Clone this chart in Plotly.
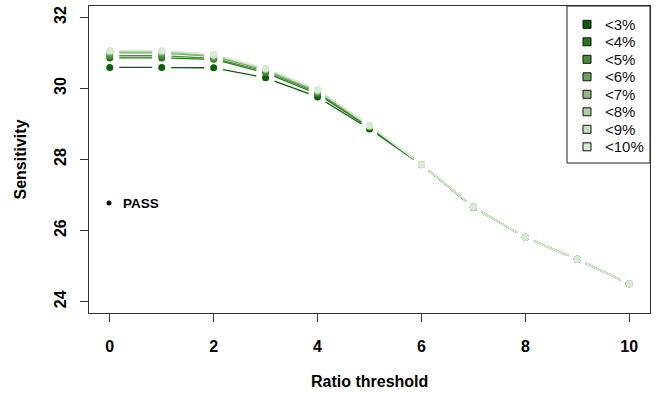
import plotly.graph_objects as go

# ---- data ----
thresholds = [0, 1, 2, 3, 4, 5, 6, 7, 8, 9, 10]
series_names = ["<3%", "<4%", "<5%", "<6%", "<7%", "<8%", "<9%", "<10%"]
s3 = [30.59, 30.59, 30.58, 30.30, 29.76, 28.86, 27.85, 26.65, 25.81, 25.19, 24.50]
s4 = [30.86, 30.86, 30.82, 30.44, 29.84, 28.90, 27.86, 26.66, 25.81, 25.19, 24.50]
s5 = [30.92, 30.92, 30.85, 30.48, 29.88, 28.92, 27.86, 26.66, 25.81, 25.19, 24.50]
s6 = [31.00, 31.00, 30.90, 30.52, 29.91, 28.93, 27.86, 26.66, 25.81, 25.19, 24.50]
s7 = [31.03, 31.03, 30.92, 30.54, 29.93, 28.94, 27.86, 26.66, 25.81, 25.19, 24.50]
s8 = [31.05, 31.05, 30.94, 30.55, 29.95, 28.95, 27.86, 26.66, 25.81, 25.19, 24.50]
s9 = [31.06, 31.06, 30.95, 30.56, 29.96, 28.96, 27.86, 26.66, 25.81, 25.19, 24.50]
s10 = [31.07, 31.07, 30.96, 30.57, 29.97, 28.96, 27.86, 26.66, 25.81, 25.19, 24.50]
series_values = [s3, s4, s5, s6, s7, s8, s9, s10]
x_ticks = [0, 2, 4, 6, 8, 10]
y_ticks = [24, 26, 28, 30, 32]
pass_label = "PASS"

# ---- style ----
colors = ["#0b5e0b", "#23791a", "#4a8c38", "#6ba55d", "#8fba84", "#acd0a3", "#c4dfbe", "#d9ebd5"]
W, H = 656, 395
L, R, T, B = 89, 650, 6, 313
xr = [-0.4, 10.4]
yr = [23.68, 32.32]
sx = (R - L) / (xr[1] - xr[0])
sy = (B - T) / (yr[1] - yr[0])
GAP = 9.5
FONT = "Liberation Sans, Arial, Helvetica, sans-serif"


def px2paper(px, py):
    return (px - L) / (R - L), (B - py) / (B - T)


def gapped(xs, ys):
    gx, gy = [], []
    for i in range(len(xs) - 1):
        x0, y0, x1, y1 = xs[i], ys[i], xs[i + 1], ys[i + 1]
        dxp, dyp = (x1 - x0) * sx, (y1 - y0) * sy
        Lp = (dxp ** 2 + dyp ** 2) ** 0.5
        if Lp <= 2 * GAP:
            continue
        t = GAP / Lp
        gx += [x0 + t * (x1 - x0), x1 - t * (x1 - x0), None]
        gy += [y0 + t * (y1 - y0), y1 - t * (y1 - y0), None]
    return gx, gy


fig = go.Figure()
for name, vals, col in zip(series_names, series_values, colors):
    gx, gy = gapped(thresholds, vals)
    fig.add_trace(go.Scatter(x=gx, y=gy, mode="lines", line=dict(color=col, width=1.3),
                             showlegend=False, hoverinfo="skip"))
    fig.add_trace(go.Scatter(x=thresholds, y=vals, mode="markers", name=name,
                             marker=dict(color=col, size=7), showlegend=False))

shapes = []
annotations = []
# legend box (top-right)
lx0, ly0 = px2paper(567, 163)
lx1, ly1 = px2paper(R, T)
shapes.append(dict(type="rect", xref="paper", yref="paper", x0=lx0, y0=ly0, x1=lx1, y1=ly1,
                   line=dict(color="#222", width=1), fillcolor="white", layer="above"))
for i, (name, col) in enumerate(zip(series_names, colors)):
    cy = 24.3 + i * 17.5
    a0 = px2paper(583, cy + 4)
    a1 = px2paper(591, cy - 4)
    shapes.append(dict(type="rect", xref="paper", yref="paper", x0=a0[0], y0=a0[1], x1=a1[0], y1=a1[1],
                       line=dict(color="#111", width=1), fillcolor=col, layer="above"))
    tx, ty = px2paper(603, cy)
    annotations.append(dict(text=name, xref="paper", yref="paper", x=tx, y=ty, xanchor="left",
                            yanchor="middle", showarrow=False, font=dict(family=FONT, size=15, color="#111")))

# PASS legend
c0 = px2paper(106.5, 205.5)
c1 = px2paper(111.5, 200.5)
shapes.append(dict(type="circle", xref="paper", yref="paper", x0=c0[0], y0=c0[1], x1=c1[0], y1=c1[1],
                   line=dict(color="black", width=0), fillcolor="black"))
px_, py_ = px2paper(121, 203)
annotations.append(dict(text="<b>" + pass_label + "</b>", xref="paper", yref="paper", x=px_, y=py_,
                        xanchor="left", yanchor="middle", showarrow=False,
                        font=dict(family=FONT, size=13.5, color="black")))

# axis titles
ax_, ay_ = px2paper((L + R) / 2, 381)
annotations.append(dict(text="<b>Ratio threshold</b>", xref="paper", yref="paper", x=ax_, y=ay_,
                        xanchor="center", yanchor="middle", showarrow=False,
                        font=dict(family=FONT, size=16, color="black")))
bx_, by_ = px2paper(20, (T + B) / 2)
annotations.append(dict(text="<b>Sensitivity</b>", xref="paper", yref="paper", x=bx_, y=by_,
                        xanchor="center", yanchor="middle", showarrow=False, textangle=-90,
                        font=dict(family=FONT, size=16, color="black")))

fig.update_layout(
    width=W, height=H,
    margin=dict(l=L, r=W - R, t=T, b=H - B),
    paper_bgcolor="white", plot_bgcolor="white",
    shapes=shapes, annotations=annotations,
    showlegend=False,
    xaxis=dict(range=xr, tickvals=x_ticks, ticktext=["<b>%d</b>" % v for v in x_ticks],
               ticks="outside", ticklen=8, tickcolor="#333", tickwidth=1,
               showline=True, mirror=True, linecolor="#333", linewidth=1.2,
               showgrid=False, zeroline=False, ticklabelstandoff=11,
               tickfont=dict(family=FONT, size=16, color="black")),
    yaxis=dict(range=yr, tickvals=y_ticks, ticktext=["<b>%d</b>" % v for v in y_ticks],
               ticks="outside", ticklen=8, tickcolor="#333", tickwidth=1, tickangle=-90,
               showline=True, mirror=True, linecolor="#333", linewidth=1.2,
               showgrid=False, zeroline=False, ticklabelstandoff=8,
               tickfont=dict(family=FONT, size=16, color="black")),
)

fig.write_html("out.html")
